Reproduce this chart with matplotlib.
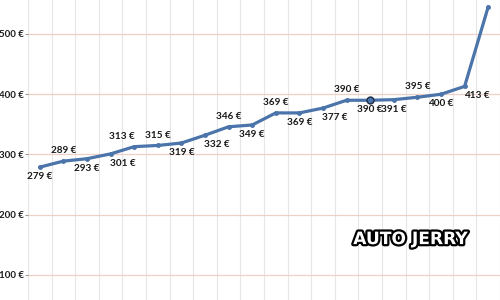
import matplotlib
matplotlib.use("Agg")
import matplotlib.pyplot as plt
import matplotlib.patheffects as pe
import numpy as np

values = [279, 289, 293, 301, 313, 315, 319, 332, 346, 349,
          369, 369, 377, 390, 390, 391, 395, 400, 413, 545]
labels = [f"{v} €" for v in values]
# 'a' above, 'b' below, 'rb' right-below, 'la' left-above
placement = ['b', 'a', 'b', 'rb', 'la', 'a', 'b', 'rb', 'a', 'b',
             'a', 'b', 'rb', 'a', 'b', 'b', 'a', 'b', 'rb', 'a']
yticks = [100, 200, 300, 400, 500]
ytick_labels = [f"{t} €" for t in yticks]

plt.rcParams['font.family'] = ['Lato', 'DejaVu Sans']

fig = plt.figure(figsize=(5, 3), dpi=100)
ax = fig.add_axes([0.056, 0.0, 0.944, 1.0])
x = np.arange(len(values))

ax.set_xlim(-0.5, len(values) - 0.5)
ax.set_ylim(58.5, 556.4)

ax.set_xticks(np.arange(-0.5, len(values), 1.0), minor=True)
ax.set_xticks([])
ax.grid(which='minor', axis='x', color='#e6e6e6', linewidth=0.8)
ax.set_yticks(yticks)
ax.set_yticklabels(ytick_labels, fontsize=7, fontweight='bold', color='#1a1a1a')
ax.grid(which='major', axis='y', color='#efcfc6', linewidth=0.9)
ax.tick_params(axis='y', length=2.5, width=0.8, color='#999999', pad=0.5)
ax.tick_params(axis='x', which='both', length=0)
for s in ax.spines.values():
    s.set_visible(False)
ax.set_axisbelow(True)

ax.plot(x, values, color='#4a74aa', linewidth=2.3, marker='o', markersize=2.5,
        solid_capstyle='round', zorder=3)
ax.plot([x[14]], [values[14]], marker='o', markersize=5, markerfacecolor='#4a74aa',
        markeredgecolor='#1f2f45', markeredgewidth=1.0, zorder=4, linestyle='none')

offsets = {'a': (0, 7.4), 'b': (0, -7.0), 'rb': (8.6, -6.8), 'la': (-8.6, 7.6)}
for xi, v, lab, p in zip(x, values, labels, placement):
    dx, dy = offsets[p]
    ax.annotate(lab, (xi, v), xytext=(dx, dy), textcoords='offset points',
                ha='center', va='center', fontsize=7.2, fontweight='bold',
                color='#1a1a1a', annotation_clip=False)

# watermark
fig.text(0.822, 0.203, "AUTO JERRY", ha='center', va='center', fontsize=12.3,
         fontweight='bold', color='white', family='DejaVu Sans',
         path_effects=[pe.withStroke(linewidth=3.2, foreground='black')])

fig.savefig("out.png", dpi=100)
